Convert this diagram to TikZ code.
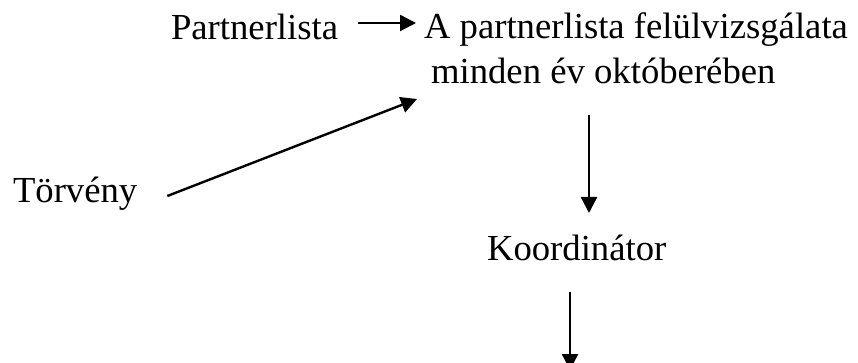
\documentclass[tikz,border=0pt]{standalone}
\usepackage{fontspec}
\setmainfont{Liberation Serif}
\usetikzlibrary{arrows.meta,calc}
\begin{document}
\begin{tikzpicture}[x=1pt,y=-1pt,
  lbl/.style={inner sep=0pt,outer sep=0pt,anchor=base west,
    font=\fontsize{36.7}{44}\selectfont},
  flow/.style={line width=2.4pt,-{Triangle[length=16pt,width=16pt]}}]
  \clip (0,0) rectangle (858,363);
  \fill[white] (0,0) rectangle (858,363);

  % text labels
  \node[lbl] (p)  at (171,40)  {Partnerlista};
  \node[lbl] (a1) at (424,39)  {A partnerlista felülvizsgálata};
  \node[lbl] (a2) at (431,84)  {minden év októberében};
  \node[lbl] (t)  at (13,203)  {Törvény};
  \node[lbl] (k)  at (487,260) {Koordinátor};
  \coordinate (out) at ($(k.base west)+(83,110)$);

  % connectors
  \draw[flow] ($(p.base east)+(20,-17)$) -- ($(a1.base west)+(-8,-16)$);
  \draw[flow] ($(t.base east)+(30,-7)$) -- ($(a2.base west)+(-14,15)$);
  \draw[flow] ($(a2.base west)+(158,31)$) -- ($(k.base west)+(102,-47)$);
  \draw[flow] ($(k.base west)+(83,32)$) -- (out);
\end{tikzpicture}
\end{document}
